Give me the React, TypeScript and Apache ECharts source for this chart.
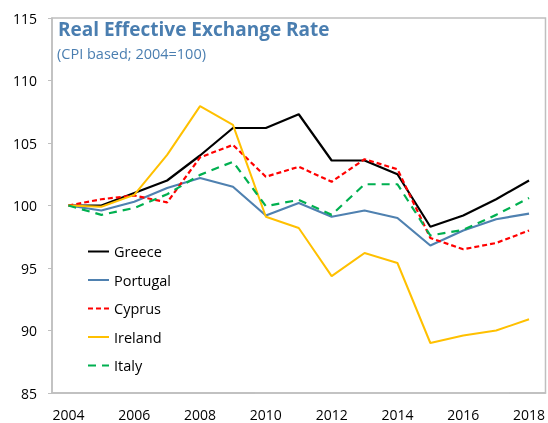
import React, { useEffect, useRef } from "react";
import * as echarts from "echarts";

const years = ["2004","2005","2006","2007","2008","2009","2010","2011","2012","2013","2014","2015","2016","2017","2018"];
const greece = [100, 100.0, 101.0, 102.0, 104.0, 106.2, 106.2, 107.3, 103.6, 103.6, 102.5, 98.3, 99.2, 100.5, 102.0];
const portugal = [100, 99.6, 100.3, 101.4, 102.2, 101.5, 99.2, 100.2, 99.1, 99.6, 99.0, 96.8, 98.0, 98.9, 99.35];
const cyprus = [100, 100.5, 100.8, 100.25, 103.85, 104.85, 102.3, 103.1, 101.9, 103.7, 102.9, 97.4, 96.5, 97.0, 98.0];
const ireland = [100, 99.9, 100.85, 104.05, 107.95, 106.45, 99.1, 98.2, 94.35, 96.2, 95.4, 89.0, 89.6, 90.0, 90.9];
const italy = [100, 99.25, 99.8, 100.9, 102.45, 103.5, 99.95, 100.45, 99.25, 101.7, 101.7, 97.6, 98.05, 99.25, 100.6];
const yTicks = { min: 85, max: 115, interval: 5 };
const titleText = "Real Effective Exchange Rate";
const subtitleText = "(CPI based; 2004=100)";

const FONT = "'Open Sans', 'Noto Sans', sans-serif";
const BLUE = "#4a7eb0";

export default function App() {
  const ref = useRef<HTMLDivElement>(null);
  useEffect(() => {
    if (!ref.current) return;
    const chart = echarts.init(ref.current, null, { renderer: "svg" });
    const mk = (name: string, data: number[], color: string, type: any, width: number) => ({
      name,
      type: "line",
      data,
      symbol: "none",
      lineStyle: { color, width, type },
      itemStyle: { color },
      z: 2,
    });
    chart.setOption({
      animation: false,
      textStyle: { fontFamily: FONT },
      graphic: [
        {
          type: "text",
          left: 58,
          top: 19,
          style: { text: titleText, fill: BLUE, font: `bold 19px ${FONT}` },
          z: 10,
        },
        {
          type: "text",
          left: 57,
          top: 46,
          style: { text: subtitleText, fill: BLUE, font: `14.5px ${FONT}` },
          z: 10,
        },
      ],
      legend: {
        orient: "vertical",
        left: 82,
        top: 239,
        itemWidth: 21,
        itemHeight: 14,
        itemGap: 13.5,
        itemStyle: { opacity: 0 },
        textStyle: { fontFamily: FONT, fontSize: 14.5, color: "#000" },
        data: ["Greece", "Portugal", "Cyprus", "Ireland", "Italy"],
      },
      grid: {
        left: 52,
        right: 1,
        top: 18,
        bottom: 30,
        show: true,
        borderColor: "#bfbfbf",
        borderWidth: 1.5,
        backgroundColor: "transparent",
      },
      xAxis: {
        type: "category",
        data: years,
        boundaryGap: true,
        axisLine: { lineStyle: { color: "#bfbfbf", width: 1.5 } },
        axisTick: { inside: true, length: 5, interval: 0, lineStyle: { color: "#bfbfbf" } },
        axisLabel: { interval: 1, margin: 14, fontSize: 14, color: "#000", fontFamily: FONT },
        splitLine: { show: false },
      },
      yAxis: {
        type: "value",
        min: yTicks.min,
        max: yTicks.max,
        interval: yTicks.interval,
        axisLine: { show: true, lineStyle: { color: "#bfbfbf", width: 1.5 } },
        axisTick: { show: true, inside: false, length: 4, lineStyle: { color: "#bfbfbf" } },
        axisLabel: { margin: 15, fontSize: 14, color: "#000", fontFamily: FONT },
        splitLine: { show: false },
      },
      series: [
        mk("Greece", greece, "#000000", "solid", 2.2),
        mk("Portugal", portugal, "#4f81b0", "solid", 2.2),
        mk("Cyprus", cyprus, "#ff0000", [5, 3], 2.2),
        mk("Ireland", ireland, "#ffc000", "solid", 2),
        mk("Italy", italy, "#00b050", [8, 6], 2.2),
      ],
    });
    return () => chart.dispose();
  }, []);
  return <div ref={ref} style={{ position: "fixed", left: 0, top: 0, width: 548, height: 423 }} />;
}
